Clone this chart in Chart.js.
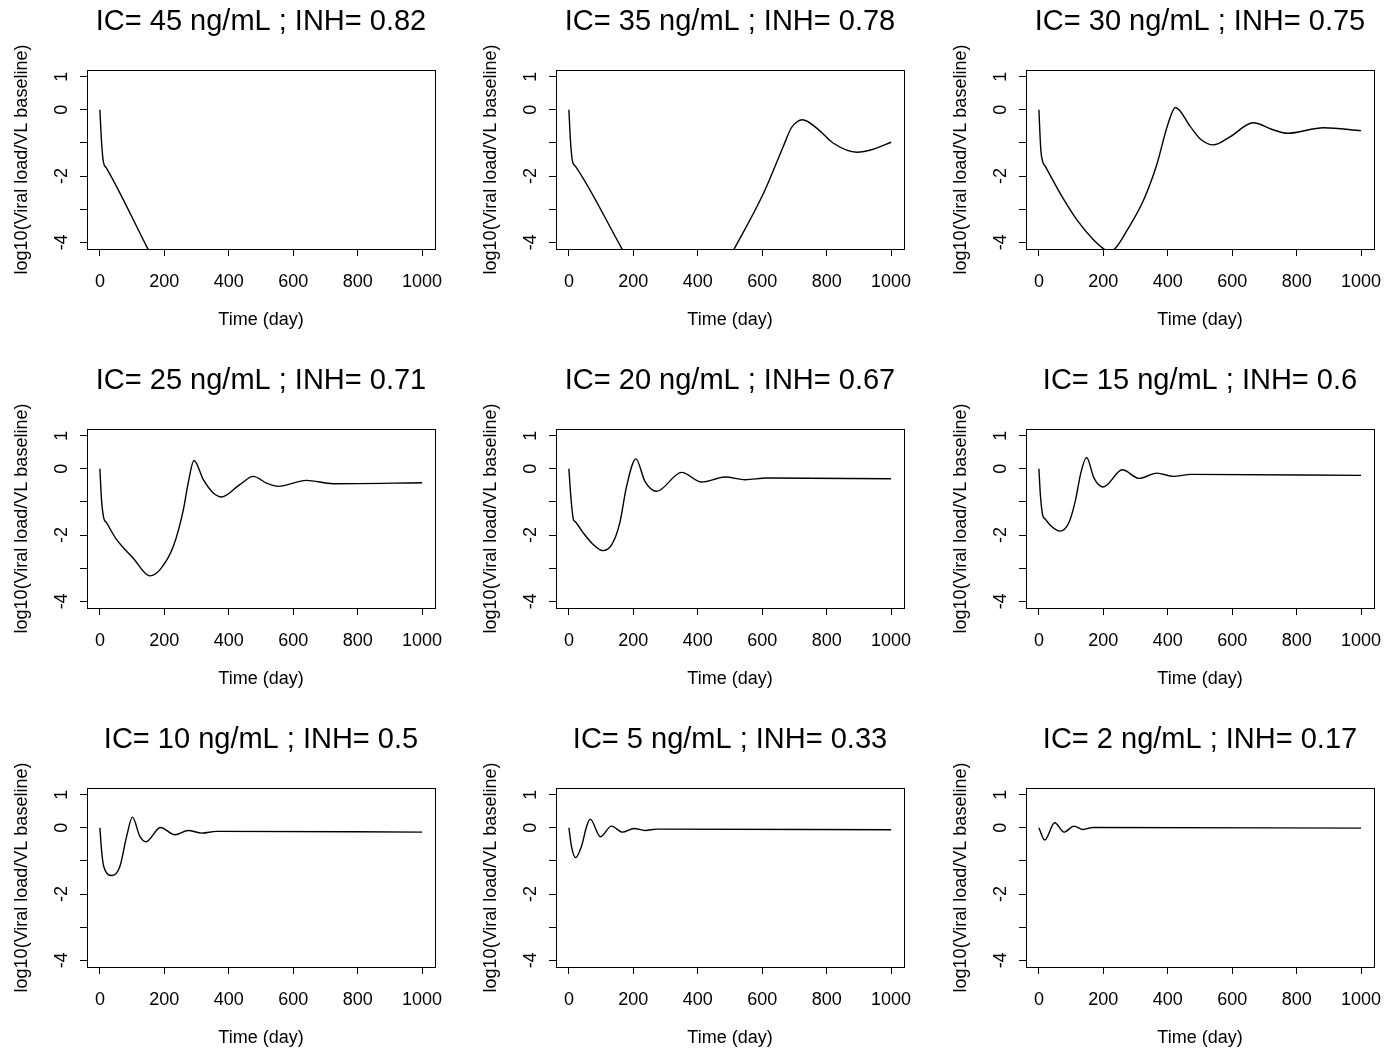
<!DOCTYPE html>
<html>
<head>
<meta charset="utf-8">
<script src="https://cdn.jsdelivr.net/npm/chart.js@4.4.0/dist/chart.umd.min.js"></script>
<style>
  body { margin: 0; background: #fff; width: 1388px; height: 1053px; overflow: hidden; position: relative; }
  .panel { position: absolute; width: 449px; height: 359px; }
</style>
</head>
<body>
<script>
// titles of the 9 panels
const icLevels = [45, 35, 30, 25, 20, 15, 10, 5, 2];
const inhLevels = [0.82, 0.78, 0.75, 0.71, 0.67, 0.6, 0.5, 0.33, 0.17];

// axes
const dayTicks = [0, 200, 400, 600, 800, 1000];
const logTicks = [-4, -3, -2, -1, 0, 1];
const logTickLabels = ['-4', '', '-2', '', '0', '1'];

// curves (day, log10 VL / VL baseline)
const days45 = [0, 5, 11, 20, 148, 200];
const logVL45 = [0, -0.95, -1.58, -1.75, -4.18, -5.16];

const days35 = [0, 5, 11, 20, 164, 340, 514, 604, 666, 690, 708, 725, 770, 821, 894, 945, 1000];
const logVL35 = [0, -0.95, -1.55, -1.70, -4.18, -7.2, -4.18, -2.52, -1.09, -0.55, -0.36, -0.30, -0.56, -1.01, -1.28, -1.19, -0.98];

const days30 = [0, 6, 12, 20, 66, 118, 170, 199, 218, 237, 274, 325, 367, 398, 424, 470, 501, 541, 594, 665, 729, 771, 884, 1000];
const logVL30 = [0, -1.21, -1.57, -1.71, -2.52, -3.32, -3.93, -4.18, -4.28, -4.18, -3.63, -2.72, -1.62, -0.51, 0.07, -0.51, -0.88, -1.06, -0.81, -0.39, -0.61, -0.71, -0.54, -0.63];

const days25 = [0, 5, 12, 20, 52, 103, 155, 186, 228, 259, 274, 292, 321, 352, 378, 434, 476, 517, 553, 641, 724, 1000];
const logVL25 = [0, -0.93, -1.49, -1.62, -2.14, -2.69, -3.23, -3.05, -2.34, -1.24, -0.43, 0.25, -0.33, -0.73, -0.85, -0.48, -0.23, -0.43, -0.53, -0.35, -0.45, -0.42];

const days20 = [0, 6, 13.5, 20, 45, 76, 105, 133, 158, 179, 208, 236, 272, 350, 412, 485, 547, 614, 1000];
const logVL20 = [0, -0.83, -1.51, -1.60, -1.94, -2.29, -2.47, -2.29, -1.63, -0.53, 0.30, -0.38, -0.68, -0.11, -0.40, -0.25, -0.33, -0.28, -0.30];

const days15 = [0, 5, 12, 20, 36, 65, 93, 114, 130, 148, 171, 200, 259, 311, 366, 418, 472, 1000];
const logVL15 = [0, -0.83, -1.41, -1.52, -1.71, -1.88, -1.63, -0.93, -0.13, 0.34, -0.28, -0.55, -0.03, -0.29, -0.13, -0.23, -0.17, -0.20];

const days10 = [0, 5, 12, 38, 62, 83, 101, 124, 143, 188, 233, 274, 316, 362, 1000];
const logVL10 = [0, -0.66, -1.17, -1.44, -1.17, -0.26, 0.32, -0.26, -0.42, 0.01, -0.21, -0.08, -0.16, -0.11, -0.13];

const days5 = [0, 8, 21, 39, 55, 66, 98, 132, 166, 202, 236, 273, 1000];
const logVL5 = [0, -0.56, -0.90, -0.56, 0.04, 0.26, -0.27, 0.05, -0.13, -0.02, -0.08, -0.04, -0.06];

const days2 = [0, 18, 49, 78, 109, 137, 168, 1000];
const logVL2 = [0, -0.37, 0.15, -0.13, 0.05, -0.05, 0.01, -0.01];

const allDays = [days45, days35, days30, days25, days20, days15, days10, days5, days2];
const allLogVL = [logVL45, logVL35, logVL30, logVL25, logVL20, logVL15, logVL10, logVL5, logVL2];

const FONT = 'Liberation Sans, Arial, Helvetica, sans-serif';
Chart.defaults.font.family = FONT;
Chart.defaults.color = '#000';

// frame round the plot region, like R's box()
const boxPlugin = {
    id: 'box',
    afterDraw(chart) {
        const { ctx, chartArea: a } = chart;
        ctx.save();
        ctx.strokeStyle = '#000';
        ctx.lineWidth = 1;
        ctx.strokeRect(a.left + 0.5, a.top + 0.5, a.right - a.left, a.bottom - a.top);
        ctx.restore();
    }
};

const colLeft = [0, 469, 939];
const rowTop = [0, 359, 718];

const axisGrid = { drawOnChartArea: false, drawTicks: true, tickLength: 7, color: '#000', lineWidth: 1 };

allDays.forEach((days, i) => {
    const div = document.createElement('div');
    div.className = 'panel';
    div.style.left = colLeft[i % 3] + 'px';
    div.style.top = rowTop[Math.floor(i / 3)] + 'px';
    const canvas = document.createElement('canvas');
    canvas.width = 449;
    canvas.height = 359;
    div.appendChild(canvas);
    document.body.appendChild(div);

    new Chart(canvas.getContext('2d'), {
        type: 'line',
        data: {
            datasets: [{
                data: days.map((d, k) => ({ x: d, y: allLogVL[i][k] })),
                borderColor: '#000',
                borderWidth: 1.4,
                pointRadius: 0,
                fill: false,
                cubicInterpolationMode: 'monotone'
            }]
        },
        options: {
            responsive: false,
            animation: false,
            devicePixelRatio: 1,
            layout: { padding: { left: 0, right: 14, top: 0, bottom: 0 } },
            plugins: {
                legend: { display: false },
                tooltip: { enabled: false },
                title: {
                    display: true,
                    text: 'IC= ' + icLevels[i] + ' ng/mL ; INH= ' + inhLevels[i],
                    fullSize: false,
                    color: '#000',
                    font: { size: 29, weight: 'normal', lineHeight: 1.2 },
                    padding: { top: 4.6, bottom: 30.6 }
                }
            },
            scales: {
                x: {
                    type: 'linear',
                    min: -40,
                    max: 1040,
                    afterBuildTicks: s => { s.ticks = dayTicks.map(v => ({ value: v })); },
                    afterFit: s => { s.height = 110; s.paddingLeft = 0; s.paddingRight = 0; },
                    grid: axisGrid,
                    border: { display: false },
                    ticks: { color: '#000', font: { size: 18 }, padding: 15.3, maxRotation: 0, autoSkip: false, callback: v => String(v) },
                    title: { display: true, text: 'Time (day)', color: '#000', font: { size: 18 }, padding: { top: 0, bottom: 27.7 } }
                },
                y: {
                    type: 'linear',
                    min: -4.2,
                    max: 1.2,
                    afterBuildTicks: s => { s.ticks = logTicks.map(v => ({ value: v })); },
                    afterFit: s => { s.width = 87; s.paddingTop = 0; s.paddingBottom = 0; },
                    grid: axisGrid,
                    border: { display: false },
                    ticks: {
                        color: '#000',
                        font: { size: 18 },
                        padding: 10,
                        minRotation: 90,
                        maxRotation: 90,
                        crossAlign: 'center',
                        autoSkip: false,
                        callback: v => logTickLabels[logTicks.indexOf(v)]
                    },
                    title: { display: true, text: 'log10(Viral load/VL baseline)', color: '#000', font: { size: 18 }, padding: { top: 11, bottom: 0 } }
                }
            }
        },
        plugins: [boxPlugin]
    });
});
</script>
</body>
</html>
